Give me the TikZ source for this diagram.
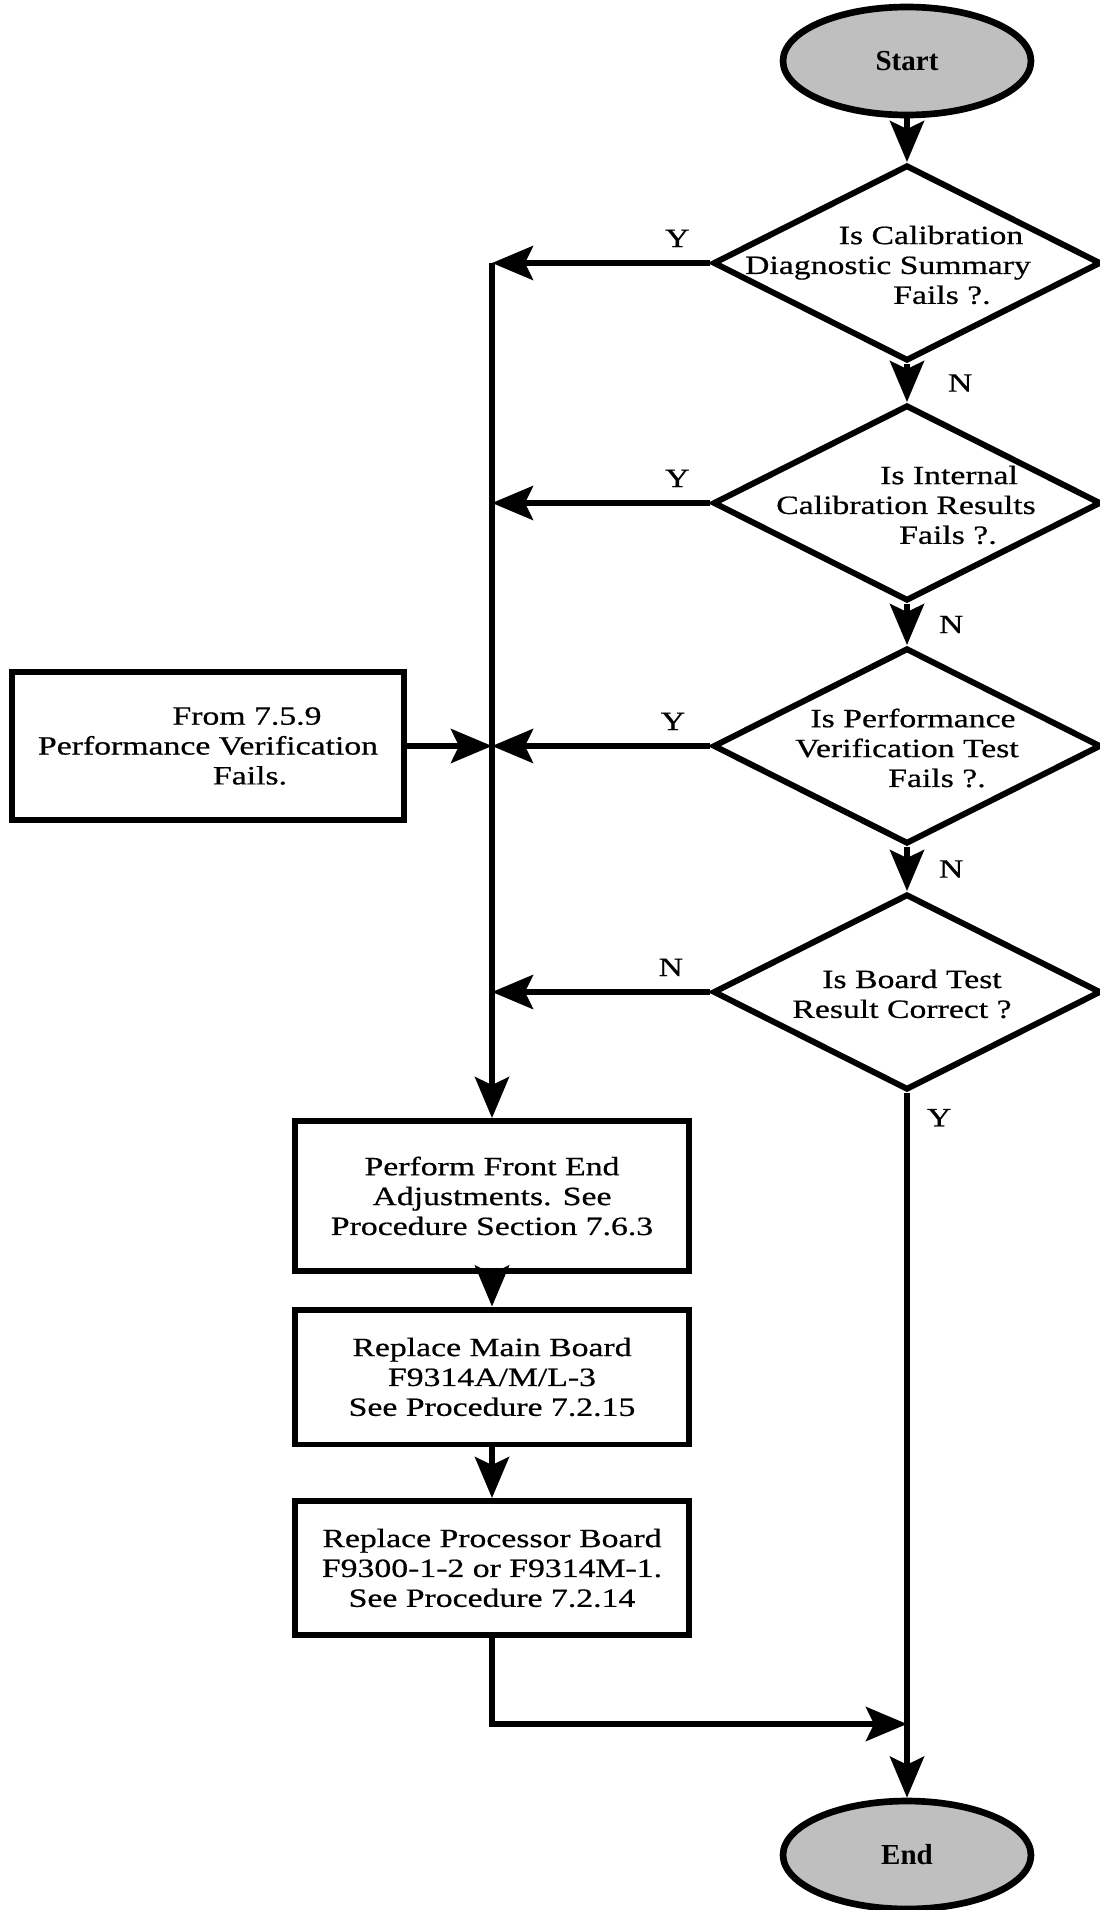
\documentclass[tikz,border=0pt]{standalone}
\usepackage{fontspec}
\setmainfont{Liberation Serif}[FakeStretch=1.28,FakeBold=0.6]
\newfontfamily\termfont{Liberation Serif}
\usepackage{tikz}
\usetikzlibrary{arrows.meta,positioning,shapes.geometric,calc}

\begin{document}
\begin{tikzpicture}[
x=0.02cm,
y=-0.02cm,
every node/.style={font=\fontsize{15}{17}\selectfont},
terminal/.style={ellipse,draw,line width=3.8pt,fill=black!25,minimum width=4.96cm,minimum height=2.16cm,inner sep=0pt,font=\termfont\fontsize{16.5}{18}\selectfont\bfseries},
ask/.style={diamond,draw,line width=3.4pt,minimum width=7.76cm,minimum height=3.92cm,inner sep=0pt},
asktext/.style={align=center,inner sep=0pt},
task/.style={rectangle,draw,line width=3.4pt,align=center,minimum width=7.9cm,inner sep=0pt},
arr/.style={-{Stealth[length=8.2mm,width=6.8mm,inset=1.6mm]},line width=3.4pt},
lbl/.style={inner sep=0pt}
]
\useasboundingbox (0,0) rectangle (1099,1910);
\node[terminal] (start) at (907,61) {Start};
\node[ask] (d1) at (907,263) {};
\node[asktext] (d1txt) at (888,265) {\hspace*{1.72cm}Is Calibration\\Diagnostic Summary\\\hspace*{2.16cm}Fails ?.};
\node[ask] (d2) at (907,503) {};
\node[asktext] (d2txt) at (906,505) {\hspace*{1.72cm}Is Internal\\Calibration Results\\\hspace*{1.68cm}Fails ?.};
\node[ask] (d3) at (907,746) {};
\node[asktext] (d3txt) at (907,748) {\hspace*{0.24cm}Is Performance\\Verification Test\\\hspace*{1.2cm}Fails ?.};
\node[ask] (d4) at (907,992) {};
\node[asktext] (d4txt) at (902,994) {\hspace*{0.4cm}Is Board Test\\Result Correct ?};
\node[task,minimum width=7.86cm,minimum height=2.96cm] (fromvf) at (208,746) {\hspace*{1.56cm}From 7.5.9\\Performance Verification\\\hspace*{1.68cm}Fails.};
\node[task,minimum height=3cm] (adjust) at (492,1196) {Perform Front End\\Adjustments. See\\Procedure Section 7.6.3};
\node[task,minimum height=2.7cm] (mainbrd) at (492,1377) {Replace Main Board\\F9314A/M/L-3\\See Procedure 7.2.15};
\node[task,minimum height=2.68cm] (procbrd) at (492,1568) {Replace Processor Board\\F9300-1-2 or F9314M-1.\\See Procedure 7.2.14};
\node[terminal] (end) at (907,1855) {End};

\coordinate (trunktop) at (adjust.north |- d1.west);
\coordinate (merge) at (907,1724);

\draw[arr] (start) -- (d1);
\draw[arr] (d1) -- node[lbl,right=0.76cm]{N} (d2);
\draw[arr] (d2) -- node[lbl,right=0.58cm]{N} (d3);
\draw[arr] (d3) -- node[lbl,right=0.58cm]{N} (d4);
\draw[arr] (d1.west) -- node[lbl,above=0.26cm,pos=0.15]{Y} (trunktop);
\draw[arr] (d2.west) -- node[lbl,above=0.26cm,pos=0.15]{Y} (d2.west -| trunktop);
\draw[arr] (d3.west) -- node[lbl,above=0.26cm,pos=0.17]{Y} (d3.west -| trunktop);
\draw[arr] (d4.west) -- node[lbl,above=0.26cm,pos=0.18]{N} (d4.west -| trunktop);
\draw[arr] (fromvf) -- (fromvf -| trunktop);
\draw[arr] (trunktop) -- (adjust);
\draw[arr] (adjust) -- (mainbrd);
\draw[arr] (mainbrd) -- (procbrd);
\draw[arr] (procbrd) |- (merge);
\draw[arr] (d4) -- node[lbl,right=0.34cm,pos=0.035]{Y} (end);
\end{tikzpicture}
\end{document}
